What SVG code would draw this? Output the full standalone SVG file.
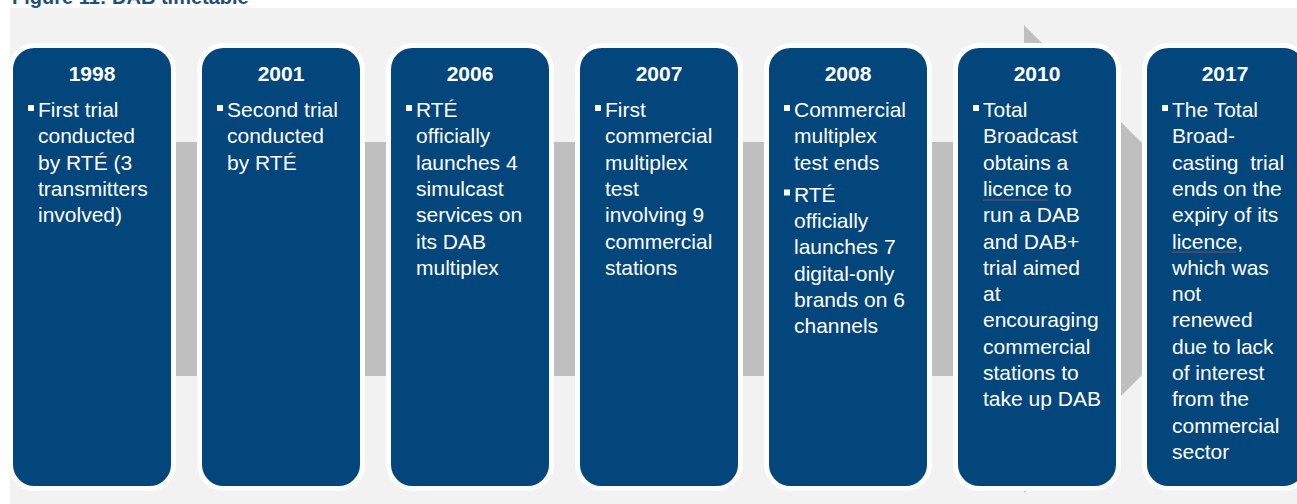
<svg xmlns="http://www.w3.org/2000/svg" width="1297" height="504" viewBox="0 0 1297 504">
<style>
.bg{fill:#f2f2f2}
.arrow{fill:#bfbfbf}
.box{fill:#03467c;stroke:#ffffff;stroke-width:5}
.yr{font-family:"Liberation Sans",Arial,sans-serif;font-weight:bold;font-size:21px;fill:#ffffff;text-anchor:middle}
.tx{font-family:"Liberation Sans",Arial,sans-serif;font-size:21px;fill:#ffffff;white-space:pre}
.bul{fill:#ffffff}
.title{font-family:"Liberation Sans",Arial,sans-serif;font-weight:bold;font-size:20px;fill:#1f4e79}
.spell{stroke:#c0504d;stroke-width:1;fill:none;opacity:0.7}
</style>
<rect x="0" y="0" width="1297" height="504" fill="#ffffff"/>
<text class="title" x="12" y="4">Figure 11: DAB timetable</text>
<rect class="bg" x="10" y="8" width="1287" height="496"/>
<g id="connectors">
<polygon class="arrow" points="40,142 1024,142 1024,25 1258,259 1024,493 1024,376 40,376"/>
</g>
<g id="n1998">
<rect class="box" x="10.5" y="45.5" width="163" height="443" rx="24" ry="24"/>
<text class="yr" x="92" y="81">1998</text>
<rect class="bul" x="28" y="105" width="6" height="6"/>
<text class="tx"><tspan x="38" y="117">First trial</tspan><tspan x="38" y="143.3">conducted</tspan><tspan x="38" y="169.6">by RTÉ (3</tspan><tspan x="38" y="195.9">transmitters</tspan><tspan x="38" y="222.2">involved)</tspan></text>
</g>
<g id="n2001">
<rect class="box" x="199.5" y="45.5" width="163" height="443" rx="24" ry="24"/>
<text class="yr" x="281" y="81">2001</text>
<rect class="bul" x="217" y="105" width="6" height="6"/>
<text class="tx"><tspan x="227" y="117">Second trial</tspan><tspan x="227" y="143.3">conducted</tspan><tspan x="227" y="169.6">by RTÉ</tspan></text>
</g>
<g id="n2006">
<rect class="box" x="388.5" y="45.5" width="163" height="443" rx="24" ry="24"/>
<text class="yr" x="470" y="81">2006</text>
<rect class="bul" x="406" y="105" width="6" height="6"/>
<text class="tx"><tspan x="416" y="117">RTÉ</tspan><tspan x="416" y="143.3">officially</tspan><tspan x="416" y="169.6">launches 4</tspan><tspan x="416" y="195.9">simulcast</tspan><tspan x="416" y="222.2">services on</tspan><tspan x="416" y="248.5">its DAB</tspan><tspan x="416" y="274.8">multiplex</tspan></text>
</g>
<g id="n2007">
<rect class="box" x="577.5" y="45.5" width="163" height="443" rx="24" ry="24"/>
<text class="yr" x="659" y="81">2007</text>
<rect class="bul" x="595" y="105" width="6" height="6"/>
<text class="tx"><tspan x="605" y="117">First</tspan><tspan x="605" y="143.3">commercial</tspan><tspan x="605" y="169.6">multiplex</tspan><tspan x="605" y="195.9">test</tspan><tspan x="605" y="222.2">involving 9</tspan><tspan x="605" y="248.5">commercial</tspan><tspan x="605" y="274.8">stations</tspan></text>
</g>
<g id="n2008">
<rect class="box" x="766.5" y="45.5" width="163" height="443" rx="24" ry="24"/>
<text class="yr" x="848" y="81">2008</text>
<rect class="bul" x="784" y="105" width="6" height="6"/>
<text class="tx"><tspan x="794" y="117">Commercial</tspan><tspan x="794" y="143.3">multiplex</tspan><tspan x="794" y="169.6">test ends</tspan></text>
<rect class="bul" x="784" y="189.5" width="6" height="6"/>
<text class="tx"><tspan x="794" y="201.7">RTÉ</tspan><tspan x="794" y="228">officially</tspan><tspan x="794" y="254.3">launches 7</tspan><tspan x="794" y="280.6">digital-only</tspan><tspan x="794" y="306.9">brands on 6</tspan><tspan x="794" y="333.2">channels</tspan></text>
</g>
<g id="n2010">
<rect class="box" x="955.5" y="45.5" width="163" height="443" rx="24" ry="24"/>
<text class="yr" x="1037" y="81">2010</text>
<rect class="bul" x="973" y="105" width="6" height="6"/>
<text class="tx"><tspan x="983" y="117">Total</tspan><tspan x="983" y="143.3">Broadcast</tspan><tspan x="983" y="169.6">obtains a</tspan><tspan x="983" y="195.9">licence to</tspan><tspan x="983" y="222.2">run a DAB</tspan><tspan x="983" y="248.5">and DAB+</tspan><tspan x="983" y="274.8">trial aimed</tspan><tspan x="983" y="301.1">at</tspan><tspan x="983" y="327.4">encouraging</tspan><tspan x="983" y="353.7">commercial</tspan><tspan x="983" y="380">stations to</tspan><tspan x="983" y="406.3">take up DAB</tspan></text>
<path class="spell" d="M983,200 L1048,200"/>
</g>
<g id="n2017">
<rect class="box" x="1144.5" y="45.5" width="163" height="443" rx="24" ry="24"/>
<text class="yr" x="1225" y="81">2017</text>
<rect class="bul" x="1162" y="105" width="6" height="6"/>
<text class="tx"><tspan x="1172" y="117">The Total</tspan><tspan x="1172" y="143.3">Broad-</tspan><tspan x="1172" y="169.6">casting  trial</tspan><tspan x="1172" y="195.9">ends on the</tspan><tspan x="1172" y="222.2">expiry of its</tspan><tspan x="1172" y="248.5">licence,</tspan><tspan x="1172" y="274.8">which was</tspan><tspan x="1172" y="301.1">not</tspan><tspan x="1172" y="327.4">renewed</tspan><tspan x="1172" y="353.7">due to lack</tspan><tspan x="1172" y="380">of interest</tspan><tspan x="1172" y="406.3">from the</tspan><tspan x="1172" y="432.6">commercial</tspan><tspan x="1172" y="458.9">sector</tspan></text>
<path class="spell" d="M1172,252 L1236,252"/>
</g>
</svg>
